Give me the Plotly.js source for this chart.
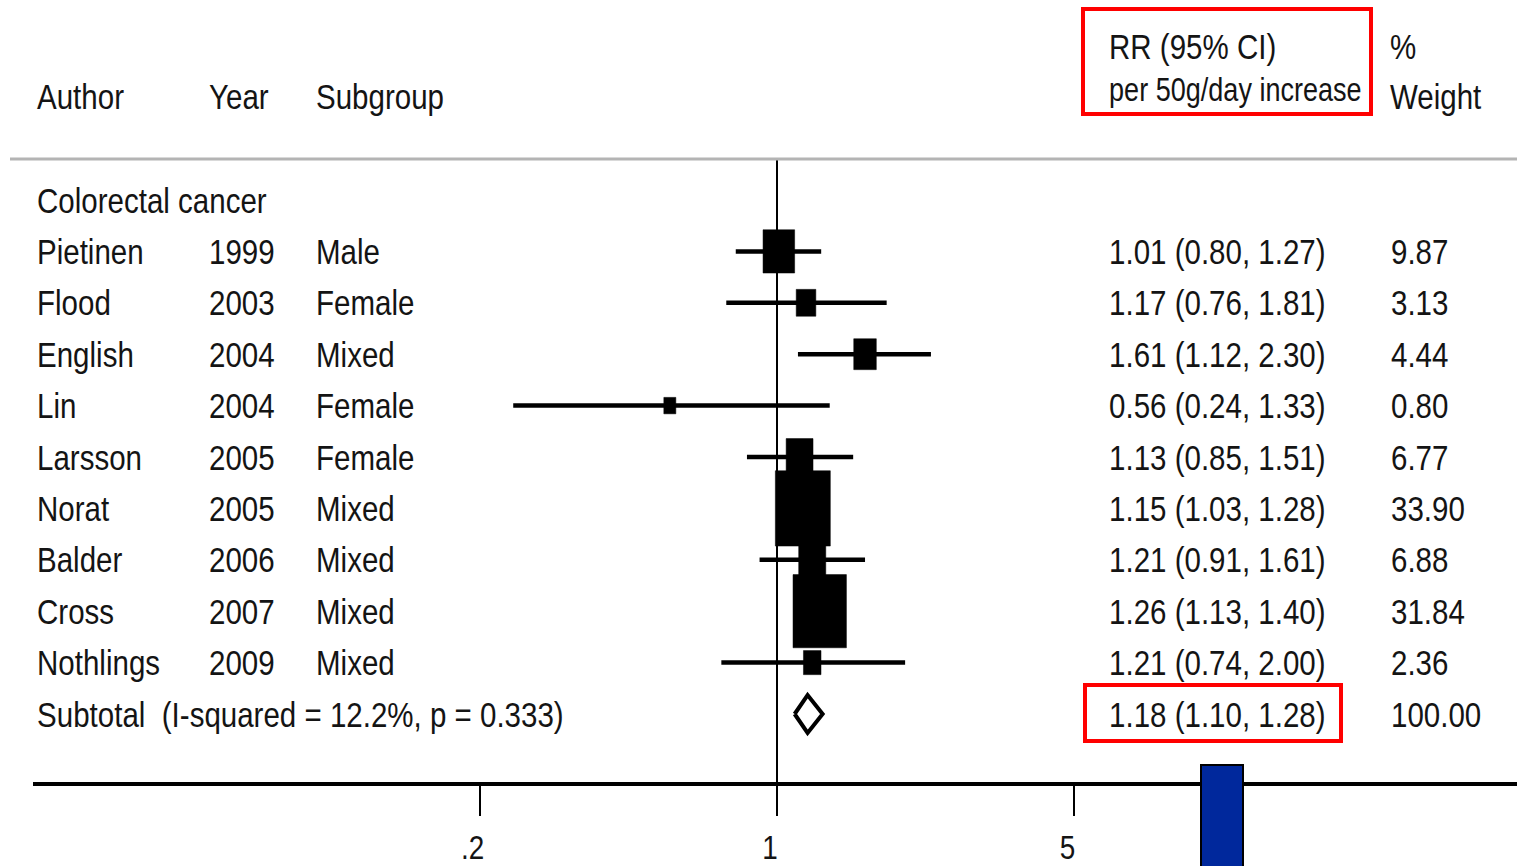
<!DOCTYPE html>
<html>
<head>
<meta charset="utf-8">
<script src="https://cdn.plot.ly/plotly-3.0.1.min.js"></script>
<style>
html,body{margin:0;padding:0;background:#fff;}
#chart{width:1517px;height:866px;}
</style>
</head>
<body>
<div id="chart"></div>
<script>
// ---- data ----
var groupLabel = 'Colorectal cancer';
var authors   = ['Pietinen','Flood','English','Lin','Larsson','Norat','Balder','Cross','Nothlings'];
var years     = [1999, 2003, 2004, 2004, 2005, 2005, 2006, 2007, 2009];
var subgroups = ['Male','Female','Mixed','Female','Female','Mixed','Mixed','Mixed','Mixed'];
var rr        = [1.01, 1.17, 1.61, 0.56, 1.13, 1.15, 1.21, 1.26, 1.21];
var ciLow     = [0.80, 0.76, 1.12, 0.24, 0.85, 1.03, 0.91, 1.13, 0.74];
var ciHigh    = [1.27, 1.81, 2.30, 1.33, 1.51, 1.28, 1.61, 1.40, 2.00];
var weights   = [9.87, 3.13, 4.44, 0.80, 6.77, 33.90, 6.88, 31.84, 2.36];
var subtotalRR = 1.18, subtotalLow = 1.10, subtotalHigh = 1.28, subtotalWeight = 100.00;
var iSquared = 12.2, pHet = 0.333;
var tickVals = [0.2, 1, 5];
var tickText = ['.2', '1', '5'];

// ---- geometry helpers (layout only) ----
var W = 1517, H = 866, L = 33, R = 0, T = 0, B = 84;
var plotW = W - L - R, plotH = H - T - B;
var rowPx = 51.4, row0Px = 200;           // pixel of row 0
var pxPerDecade = 425.6, onePx = 777;     // pixel of x = 1
function pxX(px){ return (px - L) / plotW; }
function pxY(py){ return (H - B - py) / plotH; }
var xRange = [(L - onePx) / pxPerDecade, (W - R - onePx) / pxPerDecade];
var yRange = [(H - B - row0Px) / rowPx, (T - row0Px) / rowPx];

var FONT = '"Liberation Sans", Arial, sans-serif';
var TXT = '#141414';
var CONDENSE = 0.82;

var traces = [];
// vertical reference line at RR = 1
traces.push({x:[1,1], y:[(160 - row0Px)/rowPx, yRange[0]], mode:'lines',
  line:{color:'#000', width:2}, hoverinfo:'skip', showlegend:false});

// CI lines
for (var i = 0; i < authors.length; i++) {
  var row = i + 1;
  traces.push({x:[ciLow[i], ciHigh[i]], y:[row,row], mode:'lines',
    line:{color:'#000', width:4.5}, hoverinfo:'skip', showlegend:false});
}
// weight squares (area by weight)
for (var i = 0; i < authors.length; i++) {
  var row = i + 1;
  var wPx = 4.2 + 8.72 * Math.sqrt(weights[i]);
  var hPx = 1.37 * wPx;
  var dx = (wPx / 2) / pxPerDecade;
  var dy = (hPx / 2) / rowPx;
  var xa = rr[i] * Math.pow(10, -dx), xb = rr[i] * Math.pow(10, dx);
  traces.push({x:[xa, xb, xb, xa, xa], y:[row-dy, row-dy, row+dy, row+dy, row-dy],
    mode:'lines', fill:'toself', fillcolor:'#000', line:{color:'#000', width:0.5},
    hoverinfo:'skip', showlegend:false});
}
// subtotal diamond
var sRow = authors.length + 1;
var dh = 19 / rowPx;
traces.push({x:[subtotalLow, subtotalRR, subtotalHigh, subtotalRR, subtotalLow],
  y:[sRow, sRow - dh, sRow, sRow + dh, sRow], mode:'lines',
  line:{color:'#000', width:4, shape:'linear'}, hoverinfo:'skip', showlegend:false});

// ---- annotations ----
var ann = [];
function txt(x, y, s, yref, size){
  ann.push({xref:'paper', yref:yref || 'y', x:x, y:y, text:s, showarrow:false,
    xanchor:'left', yanchor:'middle', font:{family:FONT, size:size || 36, color:TXT}});
}
// headers
txt(pxX(35), pxY(97), 'Author', 'paper');
txt(pxX(207), pxY(97), 'Year', 'paper');
txt(pxX(314), pxY(97), 'Subgroup', 'paper');
txt(pxX(1107), pxY(46), 'RR (95% CI)', 'paper');
txt(pxX(1107), pxY(90), 'per 50g/day increase', 'paper', 33);
txt(pxX(1388), pxY(46), '%', 'paper');
txt(pxX(1388), pxY(97), 'Weight', 'paper');
// group label
txt(pxX(35), 0, groupLabel);
for (var i = 0; i < authors.length; i++) {
  var row = i + 1;
  txt(pxX(35), row, authors[i]);
  txt(pxX(207), row, String(years[i]));
  txt(pxX(314), row, subgroups[i]);
  txt(pxX(1107), row, rr[i].toFixed(2) + ' (' + ciLow[i].toFixed(2) + ', ' + ciHigh[i].toFixed(2) + ')');
  txt(pxX(1389), row, weights[i].toFixed(2));
}
txt(pxX(35), sRow, 'Subtotal\u00a0\u00a0(I-squared = ' + iSquared.toFixed(1) + '%, p = ' + pHet.toFixed(3) + ')');
txt(pxX(1107), sRow, subtotalRR.toFixed(2) + ' (' + subtotalLow.toFixed(2) + ', ' + subtotalHigh.toFixed(2) + ')');
txt(pxX(1389), sRow, subtotalWeight.toFixed(2));

// ---- shapes ----
var shapes = [
  // grey header rule
  {type:'line', xref:'paper', yref:'paper', x0:pxX(10), x1:1, y0:pxY(159), y1:pxY(159),
   line:{color:'#b4b4b4', width:3}},
  // red boxes
  {type:'rect', xref:'paper', yref:'paper', x0:pxX(1083), x1:pxX(1371), y0:pxY(9), y1:pxY(114),
   line:{color:'#ff0000', width:4}},
  {type:'rect', xref:'paper', yref:'paper', x0:pxX(1085), x1:pxX(1341), y0:pxY(685), y1:pxY(741),
   line:{color:'#ff0000', width:4}},
  // blue marker bar
  {type:'rect', xref:'paper', yref:'paper', x0:pxX(1201), x1:pxX(1243), y0:pxY(765), y1:pxY(875),
   fillcolor:'#00289c', line:{color:'#000', width:2}, layer:'above'}
];

var layout = {
  width:W, height:H,
  margin:{l:L, r:R, t:T, b:B, pad:0},
  paper_bgcolor:'#fff', plot_bgcolor:'#fff',
  showlegend:false,
  xaxis:{type:'log', range:xRange, showgrid:false, zeroline:false,
    showline:true, linecolor:'#000', linewidth:4,
    ticks:'outside', ticklen:30, tickwidth:2, tickcolor:'#000',
    tickvals:tickVals, ticktext:tickText, ticklabelstandoff:2, ticklabelshift:-7,
    tickfont:{family:FONT, size:34, color:TXT}, fixedrange:true},
  yaxis:{range:yRange, showgrid:false, zeroline:false, showline:false,
    showticklabels:false, ticks:'', fixedrange:true},
  annotations:ann,
  shapes:shapes
};

function condense(el, centre){
  var bb = el.getBBox();
  var x0 = centre ? bb.x + bb.width / 2 : bb.x;
  var prev = el.getAttribute('transform') || '';
  el.setAttribute('transform', prev + ' translate(' + x0 + ',0) scale(' + CONDENSE + ',1) translate(' + (-x0) + ',0)');
}

Plotly.newPlot('chart', traces, layout, {displayModeBar:false, staticPlot:true}).then(function(gd){
  gd.querySelectorAll('.annotation-text').forEach(function(el){ condense(el, false); });
  gd.querySelectorAll('.xtick text').forEach(function(el){ condense(el, true); });
});
</script>
</body>
</html>
